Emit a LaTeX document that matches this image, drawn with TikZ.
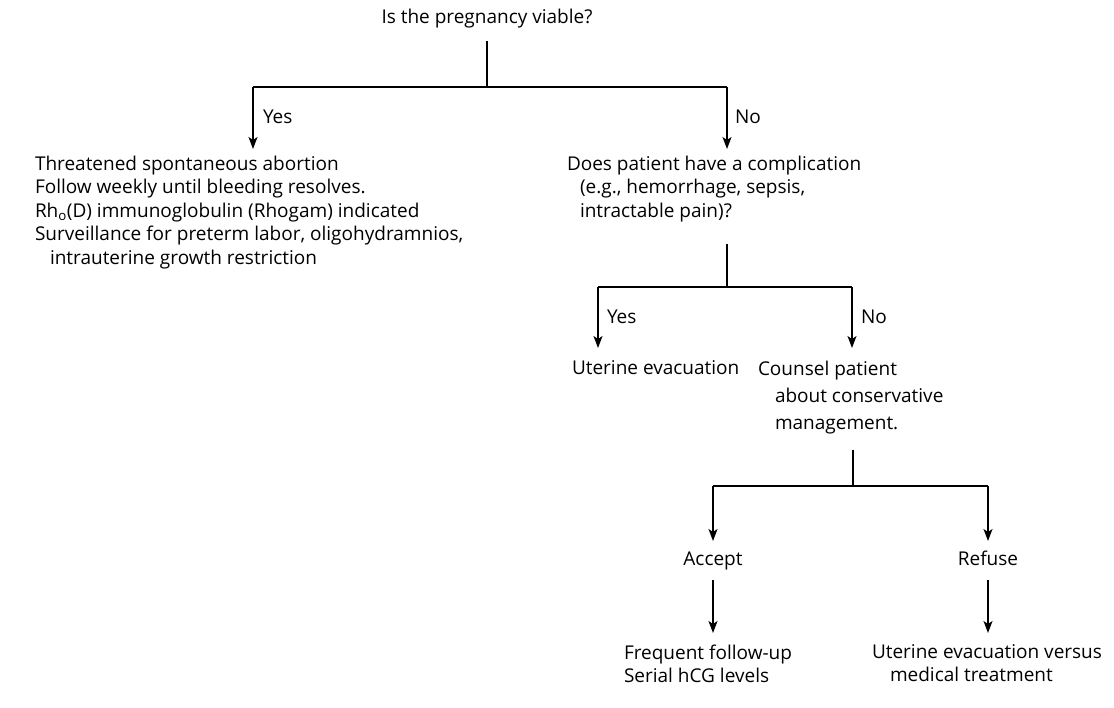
\documentclass[tikz,border=0pt]{standalone}
\usepackage{fontspec}
\setmainfont{Open Sans}
\usetikzlibrary{arrows.meta}
\begin{document}
\begin{tikzpicture}[x=1pt,y=-1pt,
  txt/.style={inner sep=0pt, outer sep=0pt, font=\fontsize{19}{23.5}\selectfont, align=left},
  lbl/.style={txt, text height=13.5pt, text depth=4.5pt},
  conn/.style={line width=1.6pt, draw=black},
  arr/.style={conn, -{Stealth[length=12pt,width=9pt,inset=3pt]}}]
\useasboundingbox (0,0) rectangle (1114,708);
% text nodes
\node[lbl, anchor=center] (q1) at (487,19) {Is the pregnancy viable?};
\node[txt, anchor=north west] (yes1) at (263,110) {Yes};
\node[txt, anchor=north west] (no1) at (735,110) {No};
\node[txt, anchor=north west] (lb) at (35,156) {Threatened spontaneous abortion\\
Follow weekly until bleeding resolves.\\
Rh\textsubscript{o}(D) immunoglobulin (Rhogam) indicated\\
Surveillance for preterm labor, oligohydramnios,\\
\hspace*{15pt}intrauterine growth restriction};
\node[txt, anchor=north west] (q2) at (567,156) {Does patient have a complication\\
\hspace*{13pt}(e.g., hemorrhage, sepsis,\\
\hspace*{13pt}intractable pain)?};
\node[txt, anchor=north west] (yes2) at (607,310) {Yes};
\node[txt, anchor=north west] (no2) at (861,310) {No};
\node[txt, anchor=north west] (ue) at (572,361) {Uterine evacuation};
\node[txt, anchor=north west, font=\fontsize{19}{27}\selectfont] (cp) at (758,361) {Counsel patient\\
\hspace*{17pt}about conservative\\
\hspace*{17pt}management.};
\node[lbl, anchor=center] (acc) at (713,561) {Accept};
\node[lbl, anchor=center] (ref) at (988,561) {Refuse};
\node[txt, anchor=north west, font=\fontsize{19}{22.5}\selectfont] (fu) at (624,645) {Frequent follow-up\\
Serial hCG levels};
\node[txt, anchor=north west, font=\fontsize{19}{22.5}\selectfont] (mt) at (872,645) {Uterine evacuation versus\\
\hspace*{18pt}medical treatment};
% junctions
\coordinate (j1) at (487,87);
\coordinate (l1) at (253,87);
\coordinate (r1) at (727,87);
\coordinate (j2) at (727,287);
\coordinate (l2) at (598,287);
\coordinate (r2) at (852,287);
\coordinate (j3) at (853,486);
\coordinate (l3) at (713,486);
\coordinate (r3) at (988,486);
% connectors
\draw[conn, shorten <=13pt] (q1.south -| j1) -- (j1);
\draw[conn] (l1) -- (r1);
\draw[arr, shorten >=7pt] (l1) -- (l1 |- lb.north);
\draw[arr, shorten >=7pt] (r1) -- (r1 |- q2.north);
\draw[conn, shorten <=22pt] (j2 |- q2.south) -- (j2);
\draw[conn] (l2) -- (r2);
\draw[arr, shorten >=13pt] (l2) -- (l2 |- ue.north);
\draw[arr, shorten >=13pt] (r2) -- (r2 |- cp.north);
\draw[conn, shorten <=16pt] (j3 |- cp.south) -- (j3);
\draw[conn] (l3) -- (r3);
\draw[arr, shorten >=11pt] (l3) -- (acc.north);
\draw[arr, shorten >=11pt] (r3) -- (ref.north);
\draw[arr, shorten <=10pt, shorten >=12pt] (acc.south) -- (acc.south |- fu.north);
\draw[arr, shorten <=10pt, shorten >=12pt] (ref.south) -- (ref.south |- mt.north);
\end{tikzpicture}
\end{document}
